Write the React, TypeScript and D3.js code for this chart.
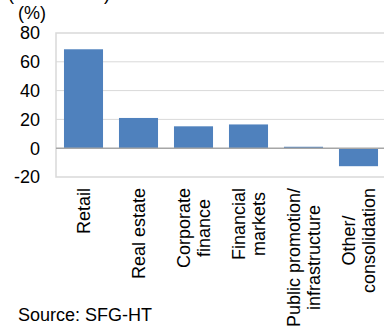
import React, { useEffect, useRef } from "react";
import * as d3 from "d3";

const categories: string[][] = [
  ["Retail"],
  ["Real estate"],
  ["Corporate", "finance"],
  ["Financial", "markets"],
  ["Public promotion/", "infrastructure"],
  ["Other/", "consolidation"],
];
const values: number[] = [68.7, 21, 15.2, 16.5, 1, -12.5];
const yTicks: number[] = [-20, 0, 20, 40, 60, 80];
const unitLabel = "(%)";
const titleLabel = "(Breakdown)";
const sourceLabel = "Source: SFG-HT";

const W = 384;
const H = 329;
const FONT = "'Liberation Sans', Arial, sans-serif";
const FS = 18;

export default function App() {
  const ref = useRef<SVGSVGElement>(null);
  useEffect(() => {
    const svg = d3.select(ref.current);
    svg.selectAll("*").remove();
    const left = 56, right = 386, top = 33, bottom = 177;
    const x = d3
      .scaleBand<number>()
      .domain(categories.map((_, i) => i))
      .range([left, right])
      .paddingInner(0.29)
      .paddingOuter(0.145);
    const y = d3.scaleLinear().domain([-20, 80]).range([bottom, top]);

    // plot border
    svg.append("rect")
      .attr("x", left).attr("y", top)
      .attr("width", right - left).attr("height", bottom - top)
      .attr("fill", "none").attr("stroke", "#d9d9d9").attr("stroke-width", 1.5);

    // gridlines
    svg.append("g").selectAll("line")
      .data(yTicks.filter((t) => t !== 0 && t !== -20 && t !== 80))
      .join("line")
      .attr("x1", left).attr("x2", right)
      .attr("y1", (d) => y(d)).attr("y2", (d) => y(d))
      .attr("stroke", "#d9d9d9").attr("stroke-width", 1);

    // bars
    svg.append("g").selectAll("rect")
      .data(values)
      .join("rect")
      .attr("x", (_, i) => x(i)!)
      .attr("width", x.bandwidth())
      .attr("y", (d) => y(Math.max(0, d)))
      .attr("height", (d) => Math.abs(y(d) - y(0)))
      .attr("fill", "#4f81bd");

    // zero line
    svg.append("line")
      .attr("x1", left).attr("x2", right)
      .attr("y1", y(0)).attr("y2", y(0))
      .attr("stroke", "#a6a6a6").attr("stroke-width", 1.5);

    // y tick labels
    svg.append("g").selectAll("text")
      .data(yTicks)
      .join("text")
      .attr("x", 40)
      .attr("y", (d) => y(d))
      .attr("dy", "0.36em")
      .attr("text-anchor", "end")
      .attr("font-family", FONT)
      .attr("font-size", FS)
      .attr("fill", "#000")
      .text((d) => String(d));

    svg.append("text")
      .attr("x", 32).attr("y", 19)
      .attr("text-anchor", "middle")
      .attr("font-family", FONT).attr("font-size", FS)
      .text(unitLabel);

    svg.append("text")
      .attr("x", 8).attr("y", 0)
      .attr("font-family", FONT).attr("font-size", FS)
      .text(titleLabel);

    // category labels
    const lineH = 20;
    categories.forEach((lines, i) => {
      const cx = x(i)! + x.bandwidth() / 2;
      const g = svg.append("g").attr("transform", `translate(${cx},188) rotate(-90)`);
      const texts = lines.map((ln, j) =>
        g.append("text")
          .attr("y", (j - (lines.length - 1) / 2) * lineH)
          .attr("dy", "0.36em")
          .attr("font-family", FONT).attr("font-size", FS)
          .attr("text-anchor", "middle")
          .text(ln)
      );
      const lens = texts.map((t) => (t.node() as SVGTextElement).getComputedTextLength());
      const maxLen = Math.max(...lens);
      texts.forEach((t) => t.attr("x", -maxLen / 2));
    });

    svg.append("text")
      .attr("x", 18).attr("y", 321)
      .attr("font-family", FONT).attr("font-size", FS)
      .text(sourceLabel);
  }, []);
  return (
    <svg
      ref={ref}
      width={W}
      height={H}
      style={{ position: "absolute", left: 0, top: 0, background: "#fff" }}
    />
  );
}
